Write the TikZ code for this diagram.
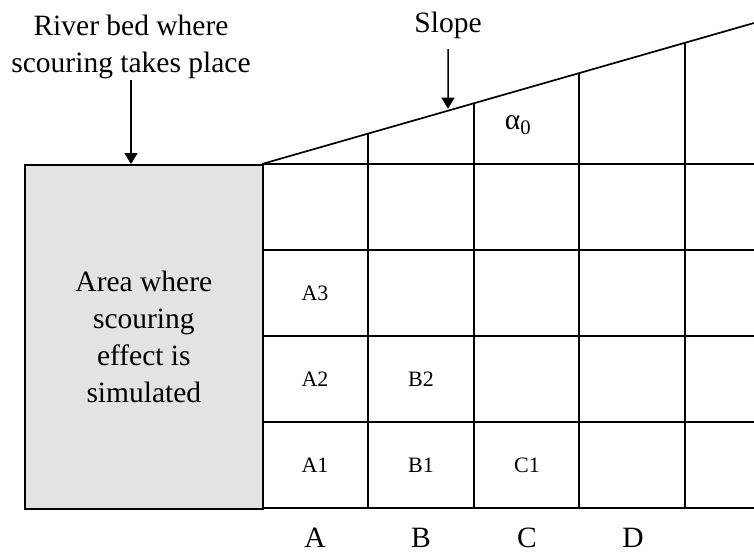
\documentclass[tikz,border=0pt]{standalone}
\usepackage{fontspec}
\setmainfont{Liberation Serif}
\usetikzlibrary{positioning, arrows.meta, calc}
\definecolor{bedgray}{HTML}{E3E3E3}

\begin{document}
\begin{tikzpicture}[x=1pt,y=-1pt,line width=1.7pt,
  big/.style={font=\fontsize{29.5}{37}\selectfont, align=center, inner sep=0pt},
  cell/.style={font=\fontsize{22}{26}\selectfont, inner sep=0pt},
  pointer/.style={-{Triangle[length=11pt,width=13pt]}, line width=1.5pt}]
\useasboundingbox (0,0) rectangle (754,555);

\node[big,draw,fill=bedgray,anchor=north west,minimum width=238pt,minimum height=344pt](area) at (24,164){Area where\\scouring\\effect is\\simulated};

% slope line and grid
\coordinate (toe) at (262,164);
\coordinate (crest) at (754,23);
\draw (toe) -- (crest);
\foreach \y in {164,250,336,422,508}{
  \draw (262,\y) -- (754,\y);}
\foreach \x in {368,474,579,685}{
  \draw (\x,508) -- ($(toe)!{(\x-262)/492}!(crest)$);}

\foreach \t/\c/\r in {A1/1/1,A2/1/2,A3/1/3,B1/2/1,B2/2/2,C1/3/1}{
  \node[cell](c\t) at ({209+106*\c},{551-86*\r}){\t};}
\foreach \t [count=\i] in {A,B,C,D}{
  \node[big](col\t) at ({209+106*\i},538){\t};}
\node[big](alpha) at (518,125){α\textsubscript{0}};

% labels
\node[big,anchor=south](river) at (131,80){River bed where\\scouring takes place};
\node[big,anchor=south](slope) at (448,40){Slope};
\coordinate (slopehit) at ($(toe)!{(448-262)/492}!(crest)$);
\draw[pointer](river.south) -- (river.south |- area.north);
\draw[pointer,shorten <=9pt,shorten >=2pt](slope.south) -- (slopehit);

\end{tikzpicture}
\end{document}
